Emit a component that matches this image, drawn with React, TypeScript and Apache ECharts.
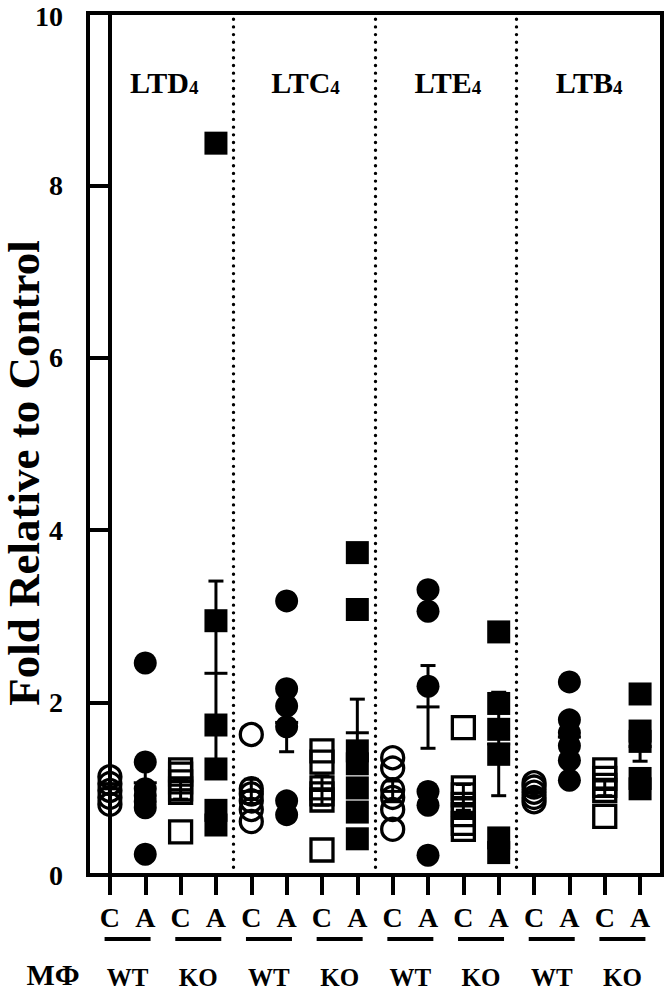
import React, { useEffect, useRef } from "react";
import * as echarts from "echarts";

const FONT = "'Liberation Serif', 'Times New Roman', serif";

// x tick labels (one per column)
const tickLabels = ["C", "A", "C", "A", "C", "A", "C", "A", "C", "A", "C", "A", "C", "A", "C", "A"];
// pair labels under the underlines
const genotypeLabels = ["WT", "KO", "WT", "KO", "WT", "KO", "WT", "KO"];
const pairCenters = [0.5, 2.5, 4.5, 6.5, 8.5, 10.5, 12.5, 14.5];
// group headers
const groupTitles = ["LTD", "LTC", "LTE", "LTB"];
const groupCenters = [1.5, 5.5, 9.5, 13.5];
const groupSub = "4";
const separators = [3.5, 7.5, 11.5];
const yTicks = [0, 2, 4, 6, 8, 10];

// individual points (fold relative to control)
const ltd4WtC = [1.14, 1.06, 0.98, 0.9, 0.82];
const ltd4WtA = [2.46, 1.31, 1.0, 0.92, 0.85, 0.78, 0.24];
const ltd4KoC = [1.22, 1.17, 1.08, 1.0, 0.96, 0.5];
const ltd4KoA = [8.49, 2.95, 1.74, 1.23, 0.75, 0.58];
const ltc4WtC = [1.63, 1.0, 0.94, 0.86, 0.76, 0.62];
const ltc4WtA = [3.18, 2.16, 1.96, 1.72, 0.86, 0.7];
const ltc4KoC = [1.44, 1.31, 1.01, 0.94, 0.87, 0.29];
const ltc4KoA = [3.74, 3.08, 1.44, 1.29, 1.01, 0.73, 0.42];
const lte4WtC = [1.36, 1.24, 0.99, 0.9, 0.76, 0.53];
const lte4WtA = [3.31, 3.06, 2.19, 0.97, 0.81, 0.23];
const lte4KoC = [1.71, 1.01, 0.93, 0.82, 0.7, 0.6, 0.53];
const lte4KoA = [2.82, 1.99, 1.69, 1.4, 0.43, 0.26];
const ltb4WtC = [1.07, 1.02, 0.96, 0.9, 0.85];
const ltb4WtA = [2.24, 1.8, 1.65, 1.5, 1.33, 1.1];
const ltb4KoC = [1.22, 1.12, 1.04, 0.98, 0.68];
const ltb4KoA = [2.1, 1.67, 1.55, 1.12, 1.0];

const columns = [
  ltd4WtC, ltd4WtA, ltd4KoC, ltd4KoA,
  ltc4WtC, ltc4WtA, ltc4KoC, ltc4KoA,
  lte4WtC, lte4WtA, lte4KoC, lte4KoA,
  ltb4WtC, ltb4WtA, ltb4KoC, ltb4KoA,
];

// mean and SEM per column
const meanValues = [1.0, 1.07, 0.99, 2.34, 0.97, 1.77, 0.98, 1.65, 0.97, 1.95, 0.9, 1.52, 0.96, 1.6, 1.01, 1.49];
const semValues = [0.06, 0.26, 0.11, 1.07, 0.14, 0.34, 0.17, 0.39, 0.12, 0.48, 0.15, 0.6, 0.04, 0.16, 0.09, 0.17];

function pointsFor(kind: number) {
  const out: number[][] = [];
  columns.forEach((vals, i) => {
    if (i % 4 === kind) vals.forEach((v) => out.push([i, v]));
  });
  return out;
}

export default function App() {
  const ref = useRef<HTMLDivElement>(null);
  useEffect(() => {
    if (!ref.current) return;
    const chart = echarts.init(ref.current, undefined, { renderer: "svg" });
    const black = "#000";
    const labelRich = { fontFamily: FONT, fontWeight: "bold", fontSize: 28, color: black };
    const option: any = {
      animation: false,
      backgroundColor: "#fff",
      grid: {
        left: 88,
        right: 5,
        top: 13,
        bottom: 114,
        show: true,
        borderColor: black,
        borderWidth: 4,
        containLabel: false,
        outerBoundsMode: "none",
      },
      xAxis: {
        type: "value",
        min: -0.62,
        max: 15.62,
        splitLine: { show: false },
        axisLine: { show: true, onZero: false, lineStyle: { color: black, width: 4 } },
        axisTick: {
          show: true,
          inside: false,
          length: 20,
          customValues: tickLabels.map((_, i) => i),
          lineStyle: { color: black, width: 4 },
        },
        axisLabel: {
          show: true,
          customValues: tickLabels.map((_, i) => i),
          formatter: (v: number) => tickLabels[Math.round(v)] ?? "",
          fontFamily: FONT,
          fontWeight: "bold",
          fontSize: 28,
          color: black,
          margin: 28,
        },
      },
      yAxis: {
        type: "value",
        min: 0,
        max: 10,
        interval: 2,
        splitLine: { show: false },
        axisLine: { show: true, lineStyle: { color: black, width: 4 } },
        axisTick: { show: true, inside: false, length: 20, lineStyle: { color: black, width: 4 } },
        axisLabel: {
          fontFamily: FONT,
          fontWeight: "bold",
          fontSize: 28,
          lineHeight: 24,
          color: black,
          margin: 25,
          formatter: (v: number) =>
            yTicks.includes(v) ? (v === 10 ? `{t|${v}}` : String(v)) : "",
          rich: {
            t: { ...labelRich, lineHeight: 24, padding: [6, 0, 0, 0] },
          },
        },
      },
      graphic: [
        {
          type: "text",
          x: 24,
          y: 473,
          rotation: Math.PI / 2,
          style: {
            text: "Fold Relative to Control",
            font: `bold 45px ${FONT}`,
            lineHeight: 36,
            fill: black,
            align: "center",
            verticalAlign: "middle",
          },
        },
        {
          type: "text",
          x: 53,
          y: 974,
          style: {
            text: "MΦ",
            font: `bold 30px ${FONT}`,
            lineHeight: 26,
            fill: black,
            align: "center",
            verticalAlign: "middle",
          },
        },
      ],
      series: [
        {
          type: "custom",
          name: "sem",
          z: 1,
          silent: true,
          data: meanValues.map((m, i) => [i, m, semValues[i]]),
          renderItem: (_p: any, api: any) => {
            const x = api.value(0);
            const m = api.value(1);
            const s = api.value(2);
            const top = api.coord([x, m + s]);
            const bot = api.coord([x, m - s]);
            const mid = api.coord([x, m]);
            const st = { stroke: black, lineWidth: 3 };
            return {
              type: "group",
              children: [
                { type: "line", shape: { x1: top[0], y1: top[1], x2: bot[0], y2: bot[1] }, style: st },
                { type: "line", shape: { x1: top[0] - 7.5, y1: top[1], x2: top[0] + 7.5, y2: top[1] }, style: st },
                { type: "line", shape: { x1: bot[0] - 7.5, y1: bot[1], x2: bot[0] + 7.5, y2: bot[1] }, style: st },
                { type: "line", shape: { x1: mid[0] - 11.5, y1: mid[1], x2: mid[0] + 11.5, y2: mid[1] }, style: st },
              ],
            };
          },
        },
        {
          type: "scatter",
          name: "WT C",
          z: 3,
          symbol: "circle",
          symbolSize: 22,
          itemStyle: { color: "rgba(0,0,0,0)", borderColor: black, borderWidth: 3.3, opacity: 1 },
          data: pointsFor(0),
          markLine: {
            silent: true,
            symbol: ["none", "none"],
            label: { show: false },
            lineStyle: { color: black, width: 3.4, type: [0.01, 7.7], cap: "round", opacity: 1 },
            data: separators.map((x) => ({ xAxis: x })),
          },
        },
        {
          type: "scatter",
          name: "WT A",
          z: 3,
          symbol: "circle",
          symbolSize: 23,
          itemStyle: { color: black, opacity: 1 },
          data: pointsFor(1),
        },
        {
          type: "scatter",
          name: "KO C",
          z: 3,
          symbol: "rect",
          symbolSize: 22,
          itemStyle: { color: "rgba(0,0,0,0)", borderColor: black, borderWidth: 3.3, opacity: 1 },
          data: pointsFor(2),
        },
        {
          type: "scatter",
          name: "KO A",
          z: 3,
          symbol: "rect",
          symbolSize: 23,
          itemStyle: { color: black, opacity: 1 },
          data: pointsFor(3),
        },
        {
          type: "custom",
          name: "titles",
          silent: true,
          clip: false,
          z: 4,
          data: groupCenters.map((x, k) => [x, 10, k]),
          renderItem: (_p: any, api: any) => {
            const p = api.coord([api.value(0), api.value(1)]);
            const k = api.value(2);
            const join = p[0] + 26;
            const bottom = p[1] + 84;
            return {
              type: "group",
              children: [
                {
                  type: "text",
                  x: join,
                  y: bottom,
                  style: {
                    text: groupTitles[k],
                    font: `bold 30px ${FONT}`,
                    fill: black,
                    align: "right",
                    verticalAlign: "bottom",
                  },
                },
                {
                  type: "text",
                  x: join,
                  y: bottom,
                  style: {
                    text: groupSub,
                    font: `bold 19px ${FONT}`,
                    fill: black,
                    align: "left",
                    verticalAlign: "bottom",
                  },
                },
              ],
            };
          },
        },
        {
          type: "custom",
          name: "genotype",
          silent: true,
          clip: false,
          z: 4,
          data: pairCenters.map((x, k) => [x, 0, k]),
          renderItem: (_p: any, api: any) => {
            const p = api.coord([api.value(0), api.value(1)]);
            const k = api.value(2);
            return {
              type: "group",
              children: [
                { type: "rect", shape: { x: p[0] - 23, y: p[1] + 62, width: 46, height: 4 }, style: { fill: black } },
                {
                  type: "text",
                  x: p[0],
                  y: p[1] + 102,
                  style: {
                    text: genotypeLabels[k],
                    font: `bold 25px ${FONT}`,
                    fill: black,
                    align: "center",
                    verticalAlign: "middle",
                  },
                },
              ],
            };
          },
        },
      ],
    };
    chart.setOption(option);
    return () => chart.dispose();
  }, []);
  return (
    <div
      ref={ref}
      style={{ position: "fixed", left: 0, top: 0, width: 667, height: 989, background: "#fff" }}
    />
  );
}
